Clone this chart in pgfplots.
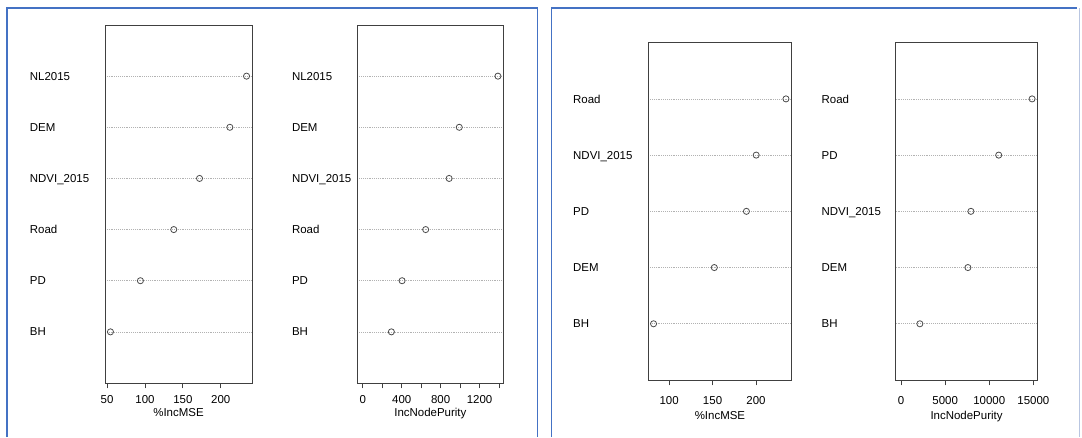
\documentclass[border=0pt]{standalone}
\usepackage{fontspec}
\setmainfont{Liberation Sans}
\usepackage{pgfplots}
\pgfplotsset{compat=1.18}
\definecolor{frameblue}{RGB}{68,114,196}
\definecolor{framelight}{RGB}{185,198,225}
\pgfplotsset{
 vimp/.style={
  scale only axis,
  anchor=south west,
  clip=false,
  scaled x ticks=false,
  axis line style={black!75, line width=0.6pt},
  font=\fontsize{8.6}{10}\selectfont,
  /pgf/number format/assume math mode=true,
  tick align=outside,
  major tick length=4pt,
  xtick pos=left,
  ytick pos=left,
  y tick style={draw=none},
  x tick style={black!75, line width=0.6pt},
  ymajorgrids,
  grid style={densely dotted, gray!60, line width=0.5pt},
  yticklabel style={anchor=west, inner sep=0pt, text depth=0pt, text height=6.2pt},
  xticklabel style={anchor=base, inner sep=0pt},
  xlabel style={at={(axis description cs:0.5,0)}, anchor=base, inner sep=0pt},
 },
 dot/.style={only marks, mark=o, mark size=2.3pt, mark options={black!70, line width=0.6pt}},
}
\begin{document}
\begin{tikzpicture}
\path[use as bounding box] (0,0) rectangle (811.5pt,327.75pt);
% panel frames
\draw[frameblue, line width=1.1pt] (5.25pt,0) -- (5.25pt,321.75pt) -- (403.3pt,321.75pt) -- (403.3pt,0);
\draw[frameblue, line width=1.1pt] (413.8pt,0) -- (413.8pt,321.75pt) -- (808pt,321.75pt);
\draw[framelight, line width=0.8pt] (809.6pt,321.75pt) -- (809.6pt,0);

% plot 1
\begin{axis}[vimp, at={(78.75pt,40.5pt)}, width=110.25pt, height=268.5pt,
  xmin=47.3, xmax=241.2, ymin=0, ymax=7,
  ytick={1,...,6}, yticklabels={BH,PD,Road,NDVI\_2015,DEM,NL2015},
  yticklabel style={xshift=-52.5pt},
  xtick={50,100,150,200}, xticklabels={50,100,150,200},
  xticklabel style={yshift=-11.45pt},
  xlabel={\%IncMSE}, xlabel style={yshift=-24.75pt}]
\addplot[dot] coordinates {(54.5,1) (94,2) (138,3) (172,4) (212,5) (234,6)};
\end{axis}

% plot 2
\begin{axis}[vimp, at={(268pt,40.5pt)}, width=109.5pt, height=268.5pt,
  xmin=-55.5, xmax=1443.5, ymin=0, ymax=7,
  ytick={1,...,6}, yticklabels={BH,PD,Road,NDVI\_2015,DEM,NL2015},
  yticklabel style={xshift=-45.2pt},
  xtick={0,200,...,1400}, xticklabels={0,,400,,800,,1200,},
  xticklabel style={yshift=-11.45pt},
  xlabel={IncNodePurity}, xlabel style={yshift=-24.75pt}]
\addplot[dot] coordinates {(294,1) (404,2) (646,3) (887,4) (991,5) (1388,6)};
\end{axis}

% plot 3
\begin{axis}[vimp, at={(486.2pt,42.75pt)}, width=107.5pt, height=253pt,
  xmin=75.9, xmax=241.1, ymin=0, ymax=6,
  ytick={1,...,5}, yticklabels={BH,DEM,PD,NDVI\_2015,Road},
  yticklabel style={xshift=-52.5pt},
  xtick={100,150,200}, xticklabels={100,150,200},
  xticklabel style={yshift=-14.25pt},
  xlabel={\%IncMSE}, xlabel style={yshift=-29.25pt}]
\addplot[dot] coordinates {(82,1) (152,2) (189,3) (200.3,4) (234.6,5)};
\end{axis}

% plot 4
\begin{axis}[vimp, at={(671.8pt,42.75pt)}, width=106.2pt, height=253pt,
  xmin=-594, xmax=15444, ymin=0, ymax=6,
  ytick={1,...,5}, yticklabels={BH,DEM,NDVI\_2015,PD,Road},
  yticklabel style={xshift=-51.75pt},
  xtick={0,5000,10000,15000}, xticklabels={0,5000,10000,15000},
  xticklabel style={yshift=-14.25pt},
  xlabel={IncNodePurity}, xlabel style={yshift=-29.25pt}]
\addplot[dot] coordinates {(2140,1) (7580,2) (7920,3) (11070,4) (14850,5)};
\end{axis}
\end{tikzpicture}
\end{document}
